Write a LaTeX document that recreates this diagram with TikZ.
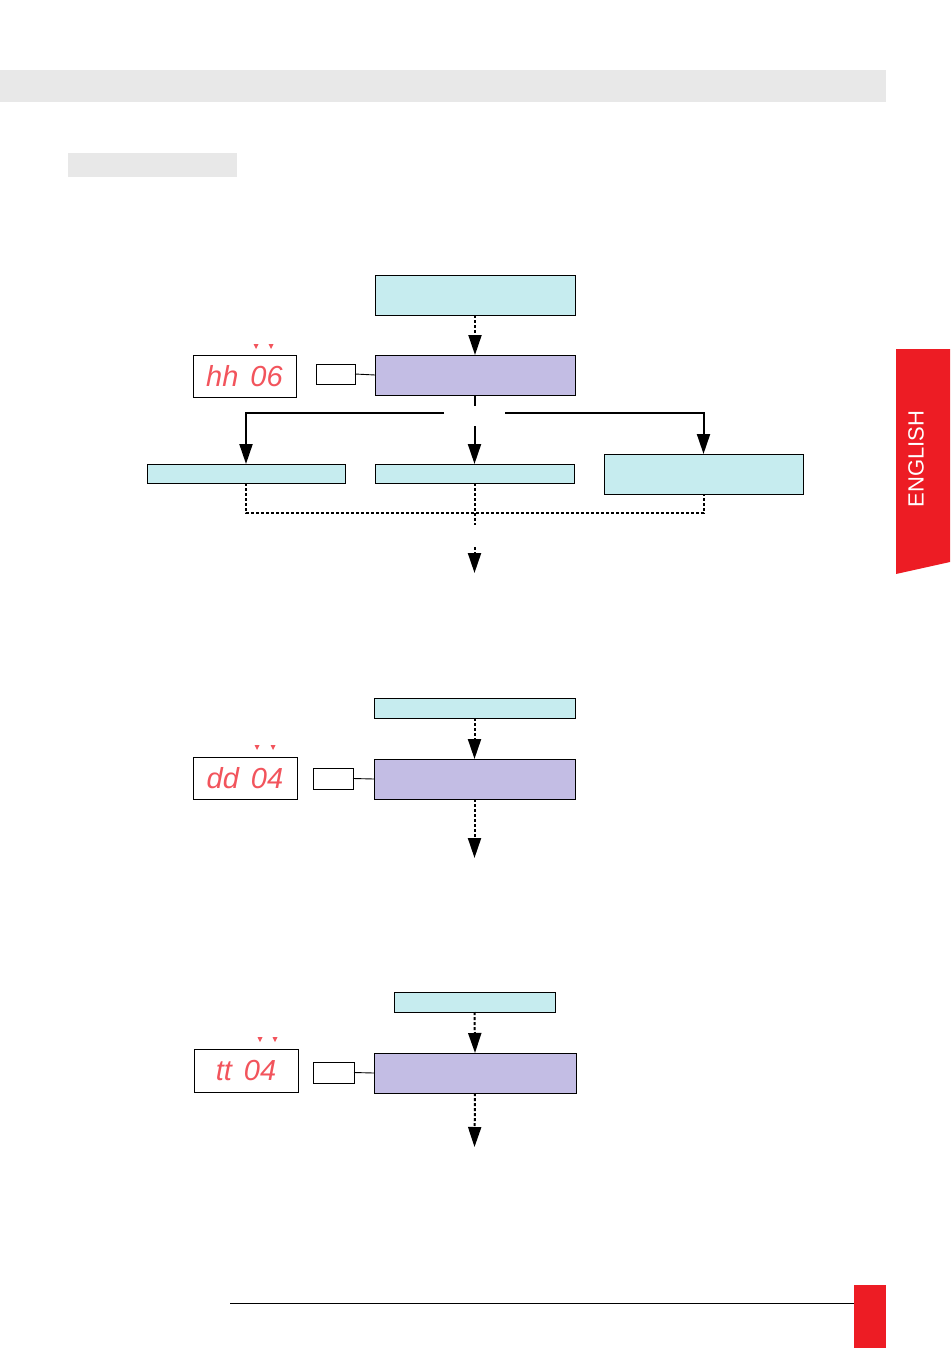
\documentclass[tikz,border=0pt]{standalone}
\usepackage{fontspec}
\setmainfont{Liberation Sans}
\usetikzlibrary{arrows.meta}
\definecolor{cyanbox}{HTML}{C6ECEF}
\definecolor{purplebox}{HTML}{C3BDE4}
\definecolor{bandgray}{HTML}{E8E8E8}
\definecolor{tabred}{HTML}{ED1C24}
\definecolor{segred}{HTML}{F2545C}
\begin{document}
\begin{tikzpicture}[x=1pt,y=-1pt,
  boxbase/.style={draw=black, line width=0.9pt, inner sep=0pt, outer sep=0pt, anchor=center},
  cbox/.style={boxbase, fill=cyanbox},
  pbox/.style={boxbase, fill=purplebox},
  wbox/.style={boxbase, fill=white},
  dispbox/.style={boxbase, fill=white},
  disptext/.style={text=segred, font=\fontsize{29}{29}\selectfont\itshape, inner sep=0pt},
  tip/.style={-{Triangle[length=20pt,width=13pt]}},
  solidline/.style={line width=2pt},
  solidarrow/.style={solidline, tip},
  dotline/.style={line width=2pt, dash pattern=on 3pt off 2pt},
  dotarrow/.style={dotline, tip},
  linkline/.style={line width=0.9pt}
]
\useasboundingbox (0,0) rectangle (950,1348);

% page decorations
\fill[bandgray] (0,70) rectangle (886,102);
\fill[bandgray] (68,153) rectangle (237,177);
\fill[tabred] (896,349) -- (950,349) -- (950,562) -- (896,574) -- cycle;
\node[rotate=90, text=white, font=\fontsize{22}{22}\selectfont, inner sep=0pt] (eng) at (916,459) {ENGLISH};
\draw[line width=0.9pt] (230,1303) -- (855,1303);
\fill[tabred] (854,1285) rectangle (886,1348);

% ---------- flow 1 ----------
\node[cbox, minimum width=200pt, minimum height=40pt] (c1) at (475,295) {};
\node[pbox, minimum width=200pt, minimum height=40pt] (p1) at (475,375) {};
\node[wbox, minimum width=39pt, minimum height=20pt] (s1) at (335.5,374) {};
\node[dispbox, minimum width=103pt, minimum height=42pt] (d1) at (244.5,376) {};
\node[disptext] (t1) at (d1.center) {hh\hspace{12pt}06};
\fill[segred] (253.5,344) -- (258.5,344) -- (256,349) -- cycle;
\fill[segred] (268.5,344) -- (273.5,344) -- (271,349) -- cycle;
\node[cbox, minimum width=198pt, minimum height=19pt] (b1) at (246,473.5) {};
\node[cbox, minimum width=199pt, minimum height=19pt] (b2) at (474.5,473.5) {};
\node[cbox, minimum width=199pt, minimum height=40pt] (b3) at (703.5,474) {};

\draw[dotarrow] (c1.south) -- (p1.north);
\draw[linkline] (s1.east) -- (p1.west);
\coordinate (p1stub) at (475,406);
\draw[solidline] (p1.south) -- (p1stub);
\coordinate (gL) at (444,413);
\coordinate (gR) at (505,413);
\coordinate (cA) at (474.5,426);
\draw[solidarrow] (gL) -| (b1.north);
\draw[solidarrow] (gR) -| (b3.north);
\draw[solidarrow] (cA) -- (b2.north);
\coordinate (jL) at (246,513);
\draw[dotline] (b1.south) -- (jL) -| (b3.south);
\coordinate (m1) at (474.5,525);
\draw[dotline] (b2.south) -- (m1);
\coordinate (m2) at (474.5,547);
\coordinate (m3) at (474.5,573);
\draw[dotarrow] (m2) -- (m3);

% ---------- flow 2 ----------
\node[cbox, minimum width=201pt, minimum height=20pt] (c2) at (474.5,708) {};
\node[pbox, minimum width=201pt, minimum height=40pt] (p2) at (474.5,779) {};
\node[wbox, minimum width=40pt, minimum height=21pt] (s2) at (333,778.5) {};
\node[dispbox, minimum width=104pt, minimum height=42pt] (d2) at (245,778) {};
\node[disptext] (t2) at (d2.center) {dd\hspace{12pt}04};
\fill[segred] (254.5,745) -- (259.5,745) -- (257,750) -- cycle;
\fill[segred] (270.5,745) -- (275.5,745) -- (273,750) -- cycle;
\draw[dotarrow] (c2.south) -- (p2.north);
\draw[linkline] (s2.east) -- (p2.west);
\coordinate (n2) at (474.5,858);
\draw[dotarrow] (p2.south) -- (n2);

% ---------- flow 3 ----------
\node[cbox, minimum width=161pt, minimum height=20pt] (c3) at (474.5,1002) {};
\node[pbox, minimum width=202pt, minimum height=40pt] (p3) at (475,1073) {};
\node[wbox, minimum width=41pt, minimum height=21pt] (s3) at (333.5,1072.5) {};
\node[dispbox, minimum width=104pt, minimum height=43pt] (d3) at (246,1070.5) {};
\node[disptext] (t3) at (d3.center) {tt\hspace{12pt}04};
\fill[segred] (257.5,1037) -- (262.5,1037) -- (260,1042) -- cycle;
\fill[segred] (272.5,1037) -- (277.5,1037) -- (275,1042) -- cycle;
\draw[dotarrow] (c3.south) -- (p3.north);
\draw[linkline] (s3.east) -- (p3.west);
\coordinate (n3) at (474.5,1147);
\draw[dotarrow] (p3.south) -- (n3);
\end{tikzpicture}
\end{document}
